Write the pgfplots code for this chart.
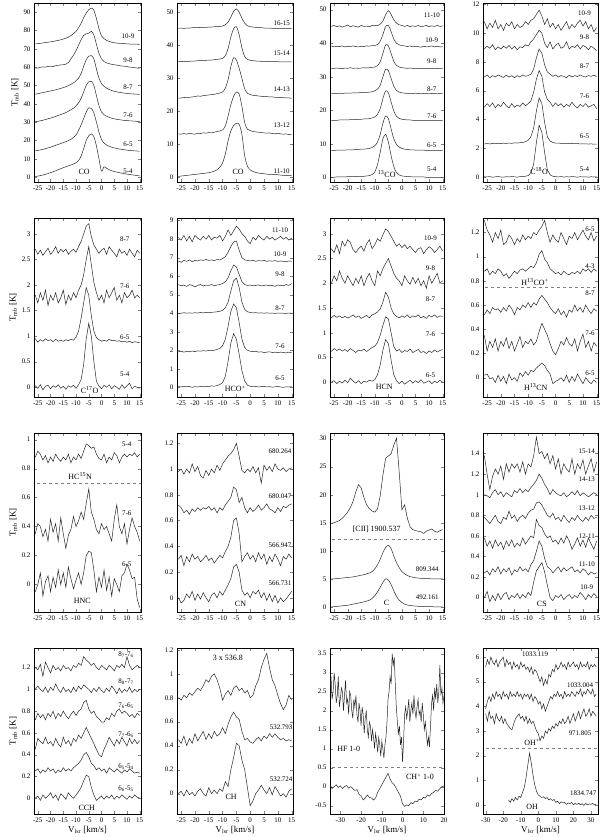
\documentclass[border=0pt]{standalone}
\usepackage{fontspec}
\setmainfont{Liberation Serif}
\usepackage{pgfplots}
\usepackage{pgfplotstable}
\pgfplotsset{compat=1.18}

\pgfplotsset{
  spec/.style={
    scale only axis, anchor=north west,
    xmin=-26.5, xmax=15.5, xtick={-25,-20,...,15},
    tick align=inside, major tick length=3bp,
    tick label style={font=\fontsize{7}{8}\selectfont},
    /pgf/number format/assume math mode=true,
    axis line style={line width=0.6pt},
    cycle list={{black!85, mark=none, line width=0.5pt}},
  },
  col1/.style={ylabel={T\textsubscript{mb} [K]}, ylabel style={font=\fontsize{9}{10}\selectfont, yshift=-2bp}},
  row4/.style={xlabel={V\textsubscript{lsr} [km/s]}, xlabel style={font=\fontsize{9}{10}\selectfont, yshift=3bp}},
}
\tikzset{
  ln/.style={black!85, mark=none, line width=0.5pt},
  lab/.style={font=\fontsize{7}{8}\selectfont, inner sep=0pt},
  sp/.style={font=\fontsize{8}{9}\selectfont, inner sep=0pt},
  sep/.style={gray, dashed, line width=0.4pt},
}

% CO 5-4 ... 10-9
\pgfplotstableread{
v a b c d e f
-26 0.3 14.3 30.2 45.2 59.6 72.6
-25 0.5 14.5 30.4 45.5 59.4 72.8
-24 0.8 14.8 30.7 45.8 59.9 73.0
-23 1.1 15.1 31.0 46.1 60.1 73.2
-22 1.5 15.5 31.4 46.4 60.0 73.4
-21 1.9 15.9 31.8 46.7 60.4 73.6
-20 2.4 16.3 32.2 47.0 60.5 73.8
-19 2.9 16.8 32.6 47.3 60.3 74.0
-18 3.4 17.3 33.1 47.6 60.8 74.3
-17 4.0 17.8 33.6 48.0 61.0 74.6
-16 4.6 18.3 34.1 48.4 61.2 74.9
-15 5.1 18.8 34.6 48.8 61.3 75.3
-14 5.6 19.3 35.2 49.3 61.6 75.8
-13 6.1 19.9 35.9 49.9 62.5 76.4
-12 6.6 20.6 36.7 50.6 64.5 77.2
-11 7.1 21.5 37.6 51.4 66.5 78.2
-10 7.8 23.0 38.8 52.5 69.0 79.5
-9 9.0 25.5 40.5 54.0 72.0 81.5
-8 11.5 28.5 43.0 56.5 75.0 84.0
-7 15.5 32.0 46.5 60.5 77.3 87.0
-6 20.0 35.5 50.0 64.0 78.2 89.5
-5 22.5 37.8 52.0 66.0 78.5 91.3
-4 23.5 37.5 52.3 66.3 79.5 92.2
-3 22.0 35.0 50.0 64.5 77.5 91.0
-2 17.0 30.0 44.5 59.0 72.5 86.5
-1 10.0 24.5 39.0 54.0 67.5 81.0
0 3.2 20.5 35.5 51.0 64.5 77.0
1 5.6 18.5 34.0 49.5 63.0 75.5
2 4.8 17.5 33.2 48.5 62.3 74.6
3 4.0 16.8 32.6 47.8 61.9 74.0
4 3.4 16.3 32.1 47.2 61.5 73.6
5 3.0 15.9 31.8 46.8 61.3 73.3
6 2.7 15.6 31.5 46.5 61.1 73.1
7 2.4 15.3 31.3 46.2 60.8 73.0
8 2.1 15.1 31.1 46.0 60.6 72.9
9 1.8 14.9 30.9 45.8 60.5 72.8
10 1.6 14.7 30.8 45.6 60.3 72.7
11 1.4 14.5 30.7 45.5 60.0 72.6
12 1.2 14.4 30.6 45.4 59.9 72.6
13 1.0 14.3 30.5 45.3 59.7 72.5
14 0.8 14.2 30.4 45.2 59.5 72.5
15 0.6 14.1 30.3 45.1 59.4 72.4
}\tCOa

% CO 11-10, 13-12, 14-13, 15-14, 16-15
\pgfplotstableread{
v a b c d e
-26 0.2 13.1 23.9 35.0 45.1
-25 0.3 13.0 24.0 35.1 45.2
-24 0.4 13.2 24.1 35.0 45.1
-23 0.5 13.0 24.2 35.1 45.2
-22 0.6 13.3 24.2 35.1 45.2
-21 0.7 13.1 24.3 35.2 45.3
-20 0.8 13.0 24.4 35.2 45.3
-19 0.9 13.3 24.6 35.3 45.3
-18 1.0 13.2 24.5 35.3 45.4
-17 1.1 13.4 24.7 35.4 45.4
-16 1.2 13.3 24.8 35.4 45.4
-15 1.3 13.5 24.9 35.5 45.5
-14 1.5 13.4 25.0 35.5 45.5
-13 1.8 13.6 25.1 35.6 45.6
-12 2.2 13.8 25.3 35.7 45.6
-11 3.0 14.0 25.5 35.8 45.7
-10 4.3 14.3 25.8 36.0 45.8
-9 7.0 15.5 27.0 36.8 46.2
-8 11.0 18.5 29.5 39.0 47.0
-7 14.0 22.0 33.5 42.5 48.5
-6 15.6 24.5 36.2 45.0 50.3
-5 16.3 25.8 35.5 45.6 51.0
-4 16.0 25.2 33.0 43.2 50.0
-3 13.0 21.5 30.0 39.2 48.2
-2 6.5 16.5 26.8 36.6 46.7
-1 3.3 14.5 25.4 35.7 45.9
0 2.2 14.1 25.0 35.4 45.6
1 1.7 13.8 24.8 35.3 45.5
2 1.4 13.7 24.7 35.2 45.4
3 1.2 13.6 24.6 35.2 45.3
4 1.1 13.5 24.5 35.1 45.3
5 1.0 13.4 24.4 35.1 45.2
6 0.9 13.3 24.4 35.1 45.2
7 0.8 13.4 24.3 35.0 45.2
8 0.8 13.2 24.3 35.0 45.1
9 0.7 13.1 24.2 35.0 45.1
10 0.7 13.3 24.2 35.0 45.1
11 0.6 13.1 24.1 34.9 45.0
12 0.5 13.0 24.1 34.9 45.0
13 0.5 13.1 24.0 34.9 45.0
14 0.4 12.9 24.0 34.9 45.0
15 0.4 13.0 23.9 34.9 45.0
}\tCOb

% 13CO 5-4 ... 11-10
\pgfplotstableread{
v a b c d e f g
-26 0.0 8.0 17.0 25.0 32.4 39.2 45.0
-25 0.0 8.0 17.0 25.0 32.5 38.9 45.3
-24 0.1 8.1 17.0 25.0 32.6 39.1 44.9
-23 0.1 8.1 17.1 25.1 32.5 39.0 45.2
-22 0.1 8.1 17.1 25.0 32.4 39.2 44.8
-21 0.1 8.1 17.1 25.1 32.6 38.9 45.1
-20 0.2 8.2 17.1 25.1 32.5 39.1 45.4
-19 0.2 8.2 17.2 25.1 32.7 39.0 44.9
-18 0.2 8.2 17.2 25.2 32.5 39.2 45.2
-17 0.2 8.3 17.2 25.2 32.6 39.0 45.0
-16 0.3 8.3 17.3 25.2 32.5 38.9 44.8
-15 0.3 8.4 17.3 25.3 32.6 39.1 45.3
-14 0.3 8.4 17.4 25.3 32.7 39.0 45.0
-13 0.4 8.5 17.4 25.3 32.6 39.2 45.1
-12 0.5 8.6 17.5 25.4 32.7 39.1 44.9
-11 0.8 8.9 17.7 25.5 32.8 39.3 45.3
-10 1.6 9.4 18.0 25.8 32.9 39.3 45.3
-9 3.8 10.5 18.8 26.3 33.3 39.6 45.2
-8 7.5 12.8 20.5 27.5 34.5 40.6 45.7
-7 11.5 16.2 23.5 30.0 37.0 42.6 46.6
-6 12.8 18.3 25.8 32.2 39.5 45.0 48.5
-5 10.5 17.5 25.2 31.8 39.2 45.3 49.7
-4 6.5 14.5 22.5 29.5 37.0 43.5 48.6
-3 3.2 11.5 19.8 27.2 34.6 41.2 47.0
-2 1.4 9.8 18.2 25.9 33.4 40.0 46.0
-1 0.7 9.0 17.6 25.4 32.9 39.5 45.5
0 0.4 8.6 17.3 25.2 32.7 39.3 45.3
1 0.3 8.4 17.2 25.1 32.6 39.2 45.0
2 0.2 8.3 17.1 25.0 32.5 39.0 45.3
3 0.2 8.2 17.1 25.0 32.6 39.2 44.9
4 0.1 8.2 17.0 25.0 32.5 38.9 45.2
5 0.1 8.1 17.0 25.1 32.4 39.1 45.0
6 0.1 8.1 17.0 25.0 32.5 39.0 45.3
7 0.1 8.1 17.0 24.9 32.5 38.8 44.9
8 0.1 8.1 17.0 25.0 32.4 39.1 45.1
9 0.0 8.0 17.0 25.0 32.5 38.9 45.3
10 0.0 8.0 17.0 24.9 32.4 39.0 44.9
11 0.0 8.0 17.0 25.0 32.5 39.2 45.2
12 0.0 8.0 17.0 25.0 32.4 38.9 45.0
13 0.0 8.0 17.0 24.9 32.5 39.1 45.3
14 0.0 8.0 17.0 25.0 32.4 38.9 45.0
15 0.0 8.0 17.0 25.0 32.4 39.0 45.2
}\tTCO

% C18O 5-4 ... 10-9
\pgfplotstableread{
v a b c d e f
-26 0.02 2.30 4.85 6.95 8.90 10.8
-25 0.00 2.32 5.10 7.10 9.10 10.3
-24 0.03 2.30 4.90 6.90 8.95 10.7
-23 -0.02 2.33 5.15 7.05 9.20 10.4
-22 0.01 2.31 4.80 6.95 8.85 10.9
-21 0.03 2.34 5.05 7.10 9.05 10.3
-20 0.00 2.32 4.90 7.00 8.90 10.6
-19 -0.02 2.35 5.20 6.92 9.10 10.2
-18 0.02 2.33 4.95 7.08 8.95 10.7
-17 0.00 2.36 4.80 6.95 9.15 10.5
-16 0.03 2.34 5.10 7.05 8.90 10.8
-15 0.01 2.37 4.85 6.90 9.10 10.3
-14 -0.01 2.36 5.00 7.05 8.85 10.6
-13 0.02 2.38 4.90 6.95 9.05 10.4
-12 0.03 2.40 5.15 7.10 9.00 10.5
-11 0.05 2.45 4.95 7.00 9.20 10.8
-10 0.10 2.55 5.10 7.05 9.10 10.6
-9 0.30 2.80 5.30 7.15 9.40 10.9
-8 0.90 3.40 5.90 7.50 9.60 11.0
-7 2.40 4.60 6.80 8.30 9.90 11.3
-6 3.60 5.50 7.40 8.90 10.20 11.6
-5 3.10 5.10 7.00 8.60 10.00 11.2
-4 1.70 3.80 5.90 7.80 9.30 10.6
-3 0.50 2.80 5.40 7.30 9.00 11.0
-2 0.15 2.50 5.20 7.15 9.40 10.4
-1 0.05 2.40 4.90 7.00 8.90 10.7
0 0.02 2.36 5.15 7.10 9.15 10.3
1 0.00 2.35 4.95 6.95 9.30 10.6
2 0.03 2.34 5.10 7.05 8.95 10.2
3 -0.01 2.33 4.85 7.00 9.05 10.5
4 0.02 2.34 5.05 6.90 9.40 10.8
5 0.00 2.32 4.90 7.08 8.90 10.3
6 0.03 2.33 5.20 6.95 9.10 10.6
7 0.01 2.31 4.95 7.05 9.00 10.4
8 -0.02 2.32 4.80 6.98 9.20 10.7
9 0.02 2.30 5.05 7.10 8.90 10.9
10 0.00 2.31 4.90 7.00 9.15 10.5
11 0.01 2.30 5.10 6.95 9.05 10.8
12 -0.02 2.29 4.85 7.05 8.85 10.3
13 0.02 2.30 4.95 7.00 9.10 10.6
14 0.00 2.28 5.05 7.08 8.95 10.1
15 0.01 2.29 4.75 6.98 8.80 10.4
}\tCEO

% C17O 5-4 ... 8-7
\pgfplotstableread{
v a b c d
-26 0.03 0.95 1.80 2.70
-25 -0.02 0.88 1.65 2.60
-24 0.05 0.93 1.85 2.68
-23 -0.05 0.90 1.70 2.58
-22 0.02 0.95 1.90 2.65
-21 0.04 0.91 1.60 2.72
-20 -0.03 0.93 1.80 2.60
-19 0.03 0.89 1.70 2.66
-18 0.00 0.94 1.85 2.75
-17 0.05 0.90 1.65 2.62
-16 -0.02 0.92 1.75 2.70
-15 0.02 0.90 1.90 2.65
-14 -0.04 0.93 1.62 2.70
-13 0.03 0.91 1.80 2.60
-12 0.00 0.94 1.70 2.66
-11 0.04 0.92 1.85 2.70
-10 -0.02 0.98 1.75 2.64
-9 0.05 1.10 1.90 2.75
-8 0.15 1.35 2.00 2.85
-7 0.45 1.65 2.20 3.00
-6 0.95 1.95 2.50 3.15
-5 1.25 1.80 2.75 3.20
-4 1.00 1.40 2.40 2.95
-3 0.50 1.10 2.05 2.78
-2 0.12 0.97 1.85 2.70
-1 0.02 0.93 1.70 2.62
0 -0.03 0.90 1.80 2.68
1 0.04 0.92 1.65 2.72
2 0.00 0.90 1.90 2.60
3 0.05 0.94 1.75 2.75
4 -0.03 0.91 1.85 2.68
5 0.03 0.92 1.95 2.62
6 0.00 0.90 1.70 2.55
7 -0.04 0.91 1.80 2.70
8 0.05 0.89 1.65 2.62
9 -0.02 0.90 1.85 2.66
10 0.03 0.88 1.75 2.58
11 0.08 0.90 1.80 2.70
12 -0.03 0.87 1.90 2.62
13 0.02 0.89 1.75 2.55
14 0.00 0.88 1.80 2.68
15 -0.02 0.87 1.75 2.62
}\tCSO

% HCO+ 6-5 ... 11-10
\pgfplotstableread{
v a b c d e f
-26 0.05 1.92 3.98 5.55 6.82 8.10
-25 0.02 1.95 4.00 5.48 6.75 7.95
-24 0.06 1.90 4.03 5.52 6.85 8.20
-23 0.03 1.94 4.00 5.45 6.80 7.90
-22 0.05 1.92 4.02 5.55 6.88 8.15
-21 0.00 1.96 4.00 5.50 6.78 7.85
-20 0.04 1.93 4.03 5.42 6.85 8.20
-19 0.02 1.97 4.01 5.50 6.82 8.05
-18 0.05 1.95 4.04 5.55 6.88 7.95
-17 0.03 1.98 4.02 5.47 6.85 8.15
-16 0.06 1.96 4.05 5.52 6.90 8.00
-15 0.04 1.99 4.03 5.50 6.85 8.20
-14 0.08 2.00 4.05 5.55 6.88 7.95
-13 0.06 2.00 4.06 5.48 6.84 8.10
-12 0.10 2.05 4.08 5.52 6.90 8.05
-11 0.15 2.10 4.10 5.55 6.88 8.20
-10 0.25 2.25 4.15 5.60 6.95 7.90
-9 0.60 2.60 4.30 5.70 7.05 8.15
-8 1.40 3.30 4.60 5.90 7.30 8.50
-7 2.40 4.10 5.20 6.30 7.60 8.20
-6 2.90 4.50 5.75 6.60 7.85 8.45
-5 2.60 4.30 5.90 6.50 7.90 8.70
-4 1.80 3.50 5.40 6.10 7.40 8.55
-3 0.90 2.60 4.60 5.70 7.00 8.30
-2 0.35 2.15 4.20 5.55 6.88 8.15
-1 0.12 2.00 4.08 5.50 6.85 7.90
0 0.06 1.95 4.04 5.52 6.82 7.75
1 0.03 1.93 4.02 5.48 6.86 8.10
2 0.05 1.95 4.03 5.50 6.80 7.95
3 0.02 1.90 4.01 5.53 6.84 8.20
4 0.04 1.92 4.02 5.47 6.82 8.05
5 0.06 1.88 4.00 5.50 6.85 7.95
6 0.02 1.90 4.02 5.52 6.80 8.15
7 0.04 1.92 4.00 5.48 6.83 8.00
8 0.01 1.88 4.01 5.50 6.81 8.10
9 0.03 1.90 3.99 5.45 6.84 7.95
10 0.05 1.87 4.01 5.52 6.80 8.05
11 0.02 1.90 4.00 5.50 6.82 8.15
12 0.00 1.88 4.00 5.48 6.80 8.00
13 0.03 1.86 3.99 5.55 6.78 8.10
14 0.02 1.90 4.01 5.50 6.82 7.95
15 0.04 1.87 4.00 5.60 6.80 8.05
}\tHCOp

% HCN 6-5 ... 10-9
\pgfplotstableread{
v a b c d e
-26 0.00 0.62 1.30 2.00 2.70
-25 0.03 0.68 1.35 2.15 2.62
-24 -0.03 0.64 1.31 2.05 2.78
-23 0.02 0.67 1.34 2.25 2.60
-22 -0.02 0.63 1.30 2.10 2.85
-21 0.04 0.66 1.33 2.00 2.75
-20 -0.01 0.62 1.30 2.15 2.88
-19 0.08 0.68 1.32 2.05 2.82
-18 0.02 0.64 1.36 1.95 2.68
-17 -0.02 0.60 1.31 2.10 2.62
-16 0.03 0.65 1.34 2.00 2.70
-15 -0.03 0.63 1.29 2.15 2.75
-14 0.02 0.67 1.32 1.95 2.65
-13 0.00 0.62 1.35 2.10 2.80
-12 0.04 0.66 1.30 2.20 2.88
-11 0.02 0.70 1.36 2.05 2.70
-10 0.05 0.73 1.38 1.95 2.78
-9 0.15 0.80 1.42 2.25 2.90
-8 0.35 0.95 1.48 2.15 2.85
-7 0.65 1.15 1.62 2.30 2.98
-6 0.86 1.32 1.82 2.40 3.10
-5 0.78 1.28 1.72 2.50 3.05
-4 0.45 1.00 1.50 2.35 2.95
-3 0.15 0.72 1.38 2.20 2.85
-2 0.03 0.63 1.33 2.10 2.75
-1 -0.03 0.66 1.30 2.05 2.80
0 0.02 0.60 1.34 1.95 2.72
1 -0.04 0.64 1.31 2.15 2.78
2 0.00 0.62 1.36 2.05 2.70
3 0.04 0.67 1.30 1.98 2.75
4 -0.02 0.60 1.34 2.12 2.68
5 0.03 0.63 1.32 2.00 2.62
6 -0.01 0.66 1.36 2.10 2.70
7 0.05 0.60 1.30 1.95 2.72
8 -0.02 0.62 1.33 2.05 2.60
9 0.00 0.58 1.29 1.90 2.68
10 0.03 0.63 1.35 2.15 2.74
11 -0.03 0.60 1.32 2.00 2.70
12 0.02 0.65 1.36 2.10 2.62
13 -0.01 0.61 1.31 2.20 2.68
14 0.04 0.64 1.34 2.00 2.75
15 0.00 0.66 1.33 2.05 2.65
}\tHCN

% H13CN 6-5, 7-6, 8-7; H13CO+ 4-3, 6-5
\pgfplotstableread{
v a b c d e
-26 0.02 0.35 0.52 0.88 1.30
-25 0.03 0.22 0.56 0.90 1.22
-24 -0.01 0.30 0.53 0.85 1.18
-23 0.00 0.25 0.58 0.88 1.12
-22 -0.04 0.32 0.56 0.86 1.20
-21 0.02 0.22 0.57 0.90 1.15
-20 -0.03 0.30 0.54 0.88 1.22
-19 0.01 0.26 0.58 0.84 1.10
-18 -0.05 0.33 0.55 0.86 1.12
-17 0.03 0.24 0.60 0.82 1.18
-16 -0.02 0.30 0.57 0.85 1.15
-15 0.00 0.22 0.52 0.88 1.10
-14 -0.03 0.28 0.58 0.86 1.15
-13 0.04 0.34 0.56 0.89 1.12
-12 0.01 0.25 0.60 0.90 1.18
-11 0.05 0.30 0.58 0.88 1.14
-10 0.02 0.28 0.62 0.90 1.17
-9 0.06 0.32 0.58 0.92 1.15
-8 0.05 0.27 0.62 0.91 1.20
-7 0.08 0.30 0.60 0.95 1.18
-6 0.10 0.38 0.65 1.02 1.22
-5 0.12 0.45 0.68 1.05 1.25
-4 0.10 0.40 0.65 0.98 1.30
-3 0.06 0.35 0.62 0.95 1.20
-2 0.03 0.28 0.58 0.90 1.12
-1 -0.05 0.22 0.55 0.88 1.18
0 -0.03 0.19 0.53 0.86 1.14
1 -0.02 0.24 0.57 0.87 1.12
2 0.00 0.30 0.52 0.85 1.20
3 -0.03 0.27 0.55 0.88 1.15
4 0.02 0.33 0.50 0.86 1.10
5 -0.04 0.28 0.56 0.85 1.17
6 0.01 0.26 0.54 0.87 1.15
7 -0.03 0.32 0.60 0.86 1.20
8 0.03 0.22 0.55 0.88 1.14
9 -0.01 0.30 0.58 0.86 1.18
10 -0.05 0.36 0.54 0.90 1.22
11 0.00 0.25 0.60 0.88 1.17
12 -0.03 0.30 0.56 0.90 1.14
13 -0.05 0.22 0.53 0.87 1.20
14 -0.02 0.29 0.57 0.90 1.13
15 -0.04 0.26 0.55 0.88 1.17
}\tHthirteen

% HNC 6-5, 7-6; HC15N 5-4
\pgfplotstableread{
v a b c
-26 -0.05 0.35 0.88
-25 0.00 0.42 0.92
-24 0.08 0.40 0.90
-23 -0.08 0.33 0.86
-22 0.02 0.38 0.89
-21 0.06 0.30 0.84
-20 -0.05 0.45 0.88
-19 0.05 0.36 0.85
-18 -0.02 0.42 0.90
-17 0.10 0.30 0.87
-16 0.00 0.46 0.85
-15 0.08 0.35 0.88
-14 -0.02 0.25 0.86
-13 0.12 0.34 0.90
-12 0.04 0.38 0.84
-11 -0.03 0.47 0.88
-10 0.03 0.40 0.86
-9 0.08 0.44 0.90
-8 0.00 0.50 0.87
-7 0.08 0.45 0.92
-6 0.20 0.56 0.97
-5 0.23 0.66 0.96
-4 0.22 0.50 0.94
-3 0.10 0.45 0.95
-2 -0.05 0.38 0.90
-1 0.05 0.35 0.87
0 -0.02 0.42 0.86
1 0.10 0.38 0.90
2 -0.04 0.40 0.84
3 0.05 0.35 0.88
4 -0.08 0.30 0.86
5 0.04 0.45 0.91
6 0.00 0.55 0.89
7 -0.05 0.40 0.84
8 0.06 0.35 0.88
9 0.08 0.42 0.90
10 0.14 0.28 0.88
11 0.10 0.38 0.90
12 0.04 0.46 0.89
13 0.05 0.40 0.91
14 -0.10 0.36 0.88
15 -0.16 0.30 0.90
}\tHNC

% CN 566.731, 566.947, 680.047, 680.264
\pgfplotstableread{
v a b c d
-26 0.00 0.30 0.72 0.98
-25 -0.04 0.33 0.70 1.00
-24 -0.02 0.25 0.66 0.96
-23 0.03 0.32 0.68 1.00
-22 0.00 0.28 0.65 0.97
-21 0.05 0.34 0.69 1.04
-20 -0.02 0.30 0.67 0.98
-19 0.03 0.32 0.70 1.02
-18 -0.01 0.28 0.68 0.95
-17 0.04 0.30 0.70 0.93
-16 0.00 0.33 0.69 0.99
-15 -0.03 0.29 0.71 0.95
-14 0.02 0.31 0.68 1.00
-13 0.04 0.27 0.70 0.97
-12 0.00 0.30 0.66 1.03
-11 0.05 0.33 0.70 0.99
-10 0.02 0.31 0.68 1.04
-9 0.06 0.36 0.72 1.07
-8 0.10 0.40 0.75 1.10
-7 0.15 0.47 0.78 1.12
-6 0.24 0.60 0.86 1.15
-5 0.26 0.62 0.84 1.20
-4 0.20 0.50 0.74 1.10
-3 0.06 0.28 0.78 0.99
-2 0.02 0.32 0.70 0.97
-1 0.04 0.35 0.66 1.00
0 0.00 0.30 0.70 0.98
1 0.05 0.33 0.67 1.02
2 0.03 0.28 0.69 0.97
3 0.06 0.35 0.72 1.01
4 0.00 0.30 0.68 0.89
5 0.04 0.34 0.70 1.03
6 -0.02 0.26 0.73 0.99
7 0.03 0.32 0.69 1.02
8 -0.03 0.28 0.68 0.98
9 0.02 0.34 0.66 1.04
10 -0.04 0.30 0.70 1.00
11 0.00 0.25 0.67 0.99
12 -0.03 0.32 0.71 1.01
13 -0.01 0.30 0.70 0.98
14 0.02 0.34 0.72 1.00
15 0.05 0.31 0.73 1.01
}\tCN

% C 492.161, C 809.344, [CII] 1900.537
\pgfplotstableread{
v a b c
-26 0.00 5.00 14.9
-25 0.05 5.00 15.0
-24 0.10 5.05 15.2
-23 0.15 5.10 15.4
-22 0.20 5.15 15.8
-21 0.25 5.20 16.3
-20 0.30 5.25 16.9
-19 0.40 5.30 17.7
-18 0.50 5.35 18.8
-17 0.60 5.45 20.5
-16 0.70 5.55 21.8
-15 0.80 5.65 21.2
-14 0.90 5.75 19.5
-13 1.05 5.90 18.2
-12 1.20 6.05 17.5
-11 1.50 6.30 17.1
-10 2.00 6.80 16.9
-9 2.70 7.50 17.5
-8 3.50 8.50 19.8
-7 4.40 9.70 23.5
-6 5.00 10.60 26.5
-5 4.80 11.00 26.9
-4 4.00 10.40 27.3
-3 2.90 9.10 28.8
-2 1.90 7.90 30.1
-1 1.20 7.00 24.0
0 0.80 6.30 17.3
1 0.50 5.90 18.2
2 0.35 5.60 15.8
3 0.25 5.40 14.3
4 0.20 5.30 13.8
5 0.15 5.20 13.6
6 0.12 5.15 13.5
7 0.10 5.10 13.4
8 0.08 5.10 13.1
9 0.06 5.05 13.5
10 0.05 5.05 13.7
11 0.04 5.00 13.9
12 0.03 5.00 13.5
13 0.02 5.00 13.3
14 0.01 5.00 13.6
15 0.00 5.00 13.8
}\tCII

% CS 10-9 ... 15-14
\pgfplotstableread{
v a b c d e f
-26 0.00 0.24 0.58 0.78 1.00 1.38
-25 0.06 0.26 0.50 0.75 0.99 1.20
-24 -0.04 0.22 0.55 0.72 0.97 1.05
-23 0.02 0.28 0.48 0.76 1.02 1.18
-22 -0.03 0.25 0.56 0.80 1.05 1.25
-21 0.04 0.30 0.50 0.74 1.00 1.20
-20 -0.02 0.23 0.54 0.72 1.03 1.28
-19 0.03 0.28 0.47 0.78 0.98 1.15
-18 0.05 0.25 0.55 0.76 1.02 1.30
-17 -0.02 0.29 0.50 0.84 1.00 1.22
-16 0.02 0.22 0.56 0.77 0.98 1.30
-15 0.00 0.27 0.49 0.80 1.04 1.26
-14 0.04 0.25 0.53 0.74 1.02 1.30
-13 -0.01 0.30 0.50 0.78 1.06 1.22
-12 0.03 0.26 0.58 0.80 1.02 1.32
-11 0.00 0.28 0.52 0.77 1.05 1.20
-10 0.05 0.25 0.56 0.82 1.03 1.30
-9 0.02 0.32 0.60 0.85 1.07 1.27
-8 0.15 0.36 0.58 0.86 1.10 1.38
-7 0.26 0.45 0.76 0.92 1.14 1.56
-6 0.30 0.55 0.70 0.93 1.20 1.40
-5 0.34 0.50 0.68 0.90 1.16 1.42
-4 0.25 0.38 0.62 0.85 1.10 1.35
-3 0.12 0.30 0.58 0.80 1.06 1.40
-2 0.00 0.28 0.60 0.78 1.00 1.30
-1 -0.03 0.24 0.54 0.82 1.05 1.38
0 0.02 0.27 0.56 0.76 1.02 1.25
1 0.00 0.30 0.52 0.78 1.00 1.35
2 0.03 0.25 0.58 0.74 0.99 1.20
3 -0.02 0.29 0.53 0.80 1.02 1.30
4 0.01 0.26 0.60 0.76 0.98 1.25
5 0.03 0.28 0.55 0.73 1.00 1.22
6 -0.01 0.30 0.47 0.78 1.03 1.35
7 0.02 0.25 0.52 0.75 1.00 1.20
8 0.00 0.27 0.58 0.80 1.04 1.30
9 0.05 0.24 0.50 0.76 0.99 1.25
10 0.02 0.28 0.56 0.74 1.02 1.34
11 -0.02 0.26 0.49 0.78 1.00 1.20
12 0.03 0.22 0.58 0.75 0.98 1.28
13 0.00 0.25 0.52 0.80 1.00 1.35
14 0.04 0.23 0.47 0.77 1.02 1.22
15 0.01 0.24 0.55 0.78 1.00 1.32
}\tCS

% CCH
\pgfplotstableread{
v a b c d e f
-26 0.00 0.25 0.45 0.72 1.00 1.20
-25 0.02 0.27 0.55 0.78 1.03 1.18
-24 -0.02 0.23 0.52 0.74 1.00 1.23
-23 0.03 0.26 0.50 0.77 0.98 1.12
-22 0.00 0.24 0.56 0.72 1.02 1.25
-21 0.02 0.28 0.50 0.78 0.97 1.20
-20 0.05 0.25 0.52 0.75 1.02 1.15
-19 0.00 0.27 0.48 0.80 0.99 1.22
-18 0.03 0.23 0.55 0.73 1.05 1.18
-17 -0.02 0.26 0.50 0.78 1.00 1.20
-16 0.04 0.24 0.47 0.75 0.97 1.17
-15 0.02 0.28 0.56 0.80 1.02 1.22
-14 -0.01 0.25 0.50 0.76 0.98 1.19
-13 0.05 0.27 0.53 0.73 1.00 1.20
-12 0.02 0.25 0.48 0.77 0.97 1.17
-11 0.00 0.28 0.55 0.80 1.02 1.22
-10 0.03 0.30 0.52 0.76 0.98 1.20
-9 0.06 0.32 0.58 0.80 1.03 1.24
-8 0.10 0.35 0.55 0.82 1.00 1.22
-7 0.16 0.40 0.60 0.88 1.04 1.30
-6 0.21 0.42 0.65 0.90 1.02 1.27
-5 0.20 0.38 0.60 0.82 1.00 1.25
-4 0.10 0.32 0.55 0.78 0.97 1.22
-3 0.03 0.30 0.50 0.80 1.01 1.24
-2 -0.02 0.26 0.45 0.75 0.98 1.20
-1 0.00 0.28 0.40 0.73 1.02 1.18
0 0.02 0.25 0.38 0.70 0.99 1.22
1 -0.01 0.27 0.45 0.70 0.97 1.20
2 0.02 0.23 0.50 0.74 1.01 1.18
3 0.00 0.28 0.56 0.72 0.98 1.22
4 0.03 0.26 0.52 0.78 1.03 1.20
5 -0.01 0.24 0.48 0.75 1.00 1.17
6 0.02 0.27 0.54 0.80 0.96 1.22
7 0.00 0.25 0.50 0.82 1.01 1.20
8 0.03 0.23 0.56 0.78 0.97 1.23
9 0.01 0.26 0.52 0.80 1.00 1.20
10 -0.01 0.24 0.48 0.78 0.98 1.30
11 0.02 0.27 0.55 0.75 1.02 1.22
12 0.00 0.25 0.50 0.77 0.97 1.18
13 0.03 0.23 0.54 0.74 1.00 1.20
14 0.01 0.24 0.50 0.78 0.98 1.22
15 0.00 0.23 0.53 0.76 1.00 1.20
}\tCCH

% CH 532.724, 532.793, 3 x 536.8
\pgfplotstableread{
v a b c
-26 0.00 0.45 0.80
-25 0.02 0.42 0.78
-24 -0.02 0.48 0.82
-23 0.03 0.40 0.80
-22 -0.01 0.46 0.84
-21 0.01 0.42 0.82
-20 -0.02 0.50 0.85
-19 0.02 0.44 0.88
-18 0.04 0.48 0.86
-17 0.00 0.52 0.90
-16 -0.02 0.45 0.95
-15 0.05 0.50 0.93
-14 0.00 0.46 0.98
-13 0.03 0.52 1.00
-12 0.00 0.48 0.95
-11 0.04 0.50 0.88
-10 0.02 0.55 0.78
-9 0.10 0.50 0.83
-8 0.06 0.58 0.86
-7 0.20 0.64 0.82
-6 0.30 0.68 0.88
-5 0.42 0.64 0.90
-4 0.40 0.62 0.86
-3 0.28 0.52 0.88
-2 0.20 0.45 0.84
-1 0.05 0.46 0.86
0 -0.10 0.43 0.80
1 -0.06 0.42 0.82
2 0.00 0.45 0.90
3 0.03 0.47 0.95
4 0.07 0.44 1.05
5 0.03 0.48 1.12
6 0.00 0.46 1.17
7 0.05 0.50 1.05
8 -0.01 0.47 0.95
9 0.06 0.50 0.90
10 0.02 0.47 0.82
11 -0.02 0.45 0.75
12 0.00 0.46 0.70
13 -0.03 0.44 0.74
14 0.02 0.45 0.82
15 0.04 0.44 0.78
}\tCH

% OH+ 1033.119, 1033.004, 971.805
\pgfplotstableread{
v a b c
-30 5.6 3.9 3.7
-29 5.9 4.2 3.4
-28 5.7 4.4 3.8
-27 6.0 4.2 3.5
-26 5.8 4.5 3.6
-25 5.7 4.3 3.3
-24 5.9 4.6 3.7
-23 5.6 4.4 3.5
-22 5.8 4.5 3.4
-21 5.9 4.3 3.6
-20 6.0 4.6 3.3
-19 5.6 4.4 3.5
-18 5.9 4.5 3.3
-17 5.7 4.3 3.2
-16 5.8 4.6 3.1
-15 5.5 4.4 3.05
-14 5.8 4.5 3.3
-13 5.6 4.4 3.5
-12 5.7 4.6 3.6
-11 5.5 4.4 3.7
-10 5.8 4.5 3.5
-9 5.6 4.3 3.6
-8 5.7 4.5 3.4
-7 5.5 4.4 3.6
-6 5.6 4.5 3.3
-5 5.4 4.3 3.5
-4 5.6 4.5 3.3
-3 5.3 4.2 3.4
-2 5.5 4.4 3.2
-1 5.4 4.3 3.0
0 5.2 4.1 2.9
1 5.0 4.2 2.6
2 5.2 3.9 2.8
3 4.85 4.1 2.7
4 5.1 3.8 3.0
5 4.9 4.0 2.9
6 5.3 4.2 3.1
7 5.2 4.4 3.0
8 5.5 4.3 3.2
9 5.4 4.5 3.1
10 5.7 4.4 3.3
11 5.5 4.6 3.2
12 5.6 4.4 3.4
13 5.8 4.5 3.3
14 5.6 4.3 3.5
15 5.7 4.6 3.3
16 5.5 4.4 3.4
17 5.8 4.5 3.6
18 5.6 4.4 3.3
19 5.7 4.6 3.5
20 5.8 4.5 3.7
21 5.6 4.4 3.4
22 5.7 4.6 3.6
23 5.5 4.5 3.8
24 5.8 4.7 3.5
25 5.6 4.4 3.7
26 5.7 4.6 3.9
27 5.6 4.5 3.6
28 5.8 4.7 3.7
29 5.5 4.6 3.9
30 5.7 4.5 3.6
31 5.6 4.7 3.8
32 5.7 4.4 3.7
33 5.6 4.5 3.6
}\tOHp

\begin{document}
\begin{tikzpicture}
\useasboundingbox (0,0) rectangle (600bp,837bp);

% ---------------- row 1 ----------------
\begin{axis}[spec, col1, at={(34bp,834bp)}, width=107bp, height=179bp,
  ymin=-2.7, ymax=95, ytick={0,10,...,90}]
\foreach \s in {a,b,c,d,e,f} {\addplot[ln, smooth] table[x=v,y=\s] {\tCOa};}
\node[lab] at (axis cs:10.4,77) {10-9};
\node[lab] at (axis cs:10.4,63.6) {9-8};
\node[lab] at (axis cs:10.4,49) {8-7};
\node[lab] at (axis cs:10.4,33.5) {7-6};
\node[lab] at (axis cs:10.4,18) {6-5};
\node[lab] at (axis cs:10.4,3) {5-4};
\node[sp] at (axis cs:-6.8,2.8) {CO};
\end{axis}

\begin{axis}[spec, at={(177bp,834bp)}, width=116bp, height=179bp,
  ymin=-1.5, ymax=52.8, ytick={0,10,...,50}]
\foreach \s in {a,b,c,d,e} {\addplot[ln, smooth] table[x=v,y=\s] {\tCOb};}
\node[lab] at (axis cs:11.4,46.8) {16-15};
\node[lab] at (axis cs:11.4,37.6) {15-14};
\node[lab] at (axis cs:11.4,26.5) {14-13};
\node[lab] at (axis cs:11.4,15.7) {13-12};
\node[lab] at (axis cs:11.4,1.7) {11-10};
\node[sp] at (axis cs:-4.4,1.5) {CO};
\end{axis}

\begin{axis}[spec, at={(330bp,834bp)}, width=114bp, height=179bp,
  ymin=-1.4, ymax=52, ytick={0,10,...,50}]
\foreach \s in {a,b,c,d,e,f,g} {\addplot[ln, smooth] table[x=v,y=\s] {\tTCO};}
\node[lab] at (axis cs:11,48.5) {11-10};
\node[lab] at (axis cs:11,41) {10-9};
\node[lab] at (axis cs:11,34.6) {9-8};
\node[lab] at (axis cs:11,26.3) {8-7};
\node[lab] at (axis cs:11,18.2) {7-6};
\node[lab] at (axis cs:11,9.7) {6-5};
\node[lab] at (axis cs:11,2.3) {5-4};
\node[sp] at (axis cs:-5.6,0.9) {\textsuperscript{13}CO};
\end{axis}

\begin{axis}[spec, at={(483bp,834bp)}, width=115bp, height=179bp,
  ymin=-0.35, ymax=12.1, ytick={0,2,...,12}]
\foreach \s in {a,b,c,d,e,f} {\addplot[ln] table[x=v,y=\s] {\tCEO};}
\node[lab] at (axis cs:10.6,11.4) {10-9};
\node[lab] at (axis cs:10.6,9.7) {9-8};
\node[lab] at (axis cs:10.6,7.7) {8-7};
\node[lab] at (axis cs:10.6,5.6) {7-6};
\node[lab] at (axis cs:10.6,2.8) {6-5};
\node[lab] at (axis cs:10.6,0.55) {5-4};
\node[sp] at (axis cs:-6,0.4) {C\textsuperscript{18}O};
\end{axis}

% ---------------- row 2 ----------------
\begin{axis}[spec, col1, at={(34bp,619bp)}, width=107bp, height=179bp,
  ymin=-0.19, ymax=3.31, ytick={0,0.5,1,1.5,2,2.5,3}]
\foreach \s in {a,b,c,d} {\addplot[ln] table[x=v,y=\s] {\tCSO};}
\node[lab] at (axis cs:9.1,2.89) {8-7};
\node[lab] at (axis cs:9.1,1.98) {7-6};
\node[lab] at (axis cs:9.1,0.98) {6-5};
\node[lab] at (axis cs:9.1,0.25) {5-4};
\node[sp] at (axis cs:-4.7,-0.06) {C\textsuperscript{17}O};
\end{axis}

\begin{axis}[spec, at={(177bp,619bp)}, width=116bp, height=179bp,
  ymin=-0.52, ymax=9.14, ytick={0,1,...,9}]
\foreach \s in {a,b,c,d,e,f} {\addplot[ln] table[x=v,y=\s] {\tHCOp};}
\node[lab] at (axis cs:10.8,8.5) {11-10};
\node[lab] at (axis cs:10.8,7.16) {10-9};
\node[lab] at (axis cs:10.8,6.08) {9-8};
\node[lab] at (axis cs:10.8,4.28) {8-7};
\node[lab] at (axis cs:10.8,2.2) {7-6};
\node[lab] at (axis cs:10.8,0.5) {6-5};
\node[sp] at (axis cs:-5.4,-0.08) {HCO\textsuperscript{+}};
\end{axis}

\begin{axis}[spec, at={(330bp,619bp)}, width=114bp, height=179bp,
  ymin=-0.3, ymax=3.32, ytick={0,0.5,1,1.5,2,2.5,3}]
\foreach \s in {a,b,c,d,e} {\addplot[ln] table[x=v,y=\s] {\tHCN};}
\node[lab] at (axis cs:10.5,2.91) {10-9};
\node[lab] at (axis cs:10.5,2.31) {9-8};
\node[lab] at (axis cs:10.5,1.67) {8-7};
\node[lab] at (axis cs:10.5,0.96) {7-6};
\node[lab] at (axis cs:10.5,0.15) {6-5};
\node[sp] at (axis cs:-6.5,-0.1) {HCN};
\end{axis}

\begin{axis}[spec, at={(483bp,619bp)}, width=115bp, height=179bp,
  ymin=-0.16, ymax=1.32, ytick={0,0.2,0.4,0.6,0.8,1,1.2}]
\foreach \s in {a,b,c,d,e} {\addplot[ln] table[x=v,y=\s] {\tHthirteen};}
\addplot[sep] coordinates {(-30,0.745) (20,0.745)};
\node[lab] at (axis cs:12.6,1.23) {6-5};
\node[lab] at (axis cs:12.6,0.92) {4-3};
\node[sp] at (axis cs:-7.5,0.79) {H\textsuperscript{13}CO\textsuperscript{+}};
\node[lab] at (axis cs:12.6,0.7) {8-7};
\node[lab] at (axis cs:12.6,0.37) {7-6};
\node[lab] at (axis cs:12.6,0.04) {6-5};
\node[sp] at (axis cs:-7.2,-0.08) {H\textsuperscript{13}CN};
\end{axis}

% ---------------- row 3 ----------------
\begin{axis}[spec, col1, at={(34bp,404bp)}, width=107bp, height=179bp,
  ymin=-0.19, ymax=1.046, ytick={0,0.2,0.4,0.6,0.8,1}]
\foreach \s in {a,b,c} {\addplot[ln] table[x=v,y=\s] {\tHNC};}
\addplot[sep] coordinates {(-30,0.7) (20,0.7)};
\node[lab] at (axis cs:9.9,0.97) {5-4};
\node[sp] at (axis cs:-8.4,0.75) {HC\textsuperscript{15}N};
\node[lab] at (axis cs:9.9,0.49) {7-6};
\node[lab] at (axis cs:9.9,0.14) {6-5};
\node[sp] at (axis cs:-7.5,-0.11) {HNC};
\end{axis}

\begin{axis}[spec, at={(177bp,404bp)}, width=116bp, height=179bp,
  ymin=-0.11, ymax=1.28, ytick={0,0.2,0.4,0.6,0.8,1,1.2}]
\foreach \s in {a,b,c,d} {\addplot[ln] table[x=v,y=\s] {\tCN};}
\node[lab] at (axis cs:10.8,1.14) {680.264};
\node[lab] at (axis cs:10.8,0.79) {680.047};
\node[lab] at (axis cs:10.8,0.41) {566.947};
\node[lab] at (axis cs:10.8,0.11) {566.731};
\node[sp] at (axis cs:-3.5,-0.05) {CN};
\end{axis}

\begin{axis}[spec, at={(330bp,404bp)}, width=114bp, height=179bp,
  ymin=-0.9, ymax=31, ytick={0,5,...,30}]
\addplot[ln, smooth] table[x=v,y=a] {\tCII};
\addplot[ln, smooth] table[x=v,y=b] {\tCII};
\addplot[ln] table[x=v,y=c] {\tCII};
\addplot[sep] coordinates {(-30,12) (20,12)};
\node[sp] at (axis cs:-9.3,13.8) {[CII] 1900.537};
\node[lab] at (axis cs:9.3,6.8) {809.344};
\node[lab] at (axis cs:9.3,1.7) {492.161};
\node[sp] at (axis cs:-5.7,0.8) {C};
\end{axis}

\begin{axis}[spec, at={(483bp,404bp)}, width=115bp, height=179bp,
  ymin=-0.14, ymax=1.6, ytick={0,0.2,0.4,0.6,0.8,1,1.2,1.4}]
\foreach \s in {a,b,c,d,e,f} {\addplot[ln] table[x=v,y=\s] {\tCS};}
\node[lab] at (axis cs:11.4,1.42) {15-14};
\node[lab] at (axis cs:11.4,1.15) {14-13};
\node[lab] at (axis cs:11.4,0.87) {13-12};
\node[lab] at (axis cs:11.4,0.6) {12-11};
\node[lab] at (axis cs:11.4,0.32) {11-10};
\node[lab] at (axis cs:11.4,0.1) {10-9};
\node[sp] at (axis cs:-5,-0.06) {CS};
\end{axis}

% ---------------- row 4 ----------------
\begin{axis}[spec, col1, row4, at={(34bp,189bp)}, width=107bp, height=166bp,
  ymin=-0.145, ymax=1.38, ytick={0,0.2,0.4,0.6,0.8,1,1.2}]
\foreach \s in {a,b,c,d,e,f} {\addplot[ln] table[x=v,y=\s] {\tCCH};}
\node[lab] at (axis cs:9.6,1.32) {8\textsubscript{7}-7\textsubscript{6}};
\node[lab] at (axis cs:9.6,1.07) {8\textsubscript{8}-7\textsubscript{7}};
\node[lab] at (axis cs:9.6,0.85) {7\textsubscript{6}-6\textsubscript{5}};
\node[lab] at (axis cs:9.6,0.58) {7\textsubscript{7}-6\textsubscript{6}};
\node[lab] at (axis cs:9.6,0.29) {6\textsubscript{5}-5\textsubscript{4}};
\node[lab] at (axis cs:9.6,0.09) {6\textsubscript{6}-5\textsubscript{5}};
\node[sp] at (axis cs:-5.8,-0.09) {CCH};
\end{axis}

\begin{axis}[spec, row4, at={(177bp,189bp)}, width=116bp, height=166bp,
  ymin=-0.17, ymax=1.215, ytick={0,0.2,0.4,0.6,0.8,1,1.2}]
\foreach \s in {a,b,c} {\addplot[ln] table[x=v,y=\s] {\tCH};}
\node[sp] at (axis cs:-8.1,1.13) {3 x 536.8};
\node[lab] at (axis cs:11.2,0.55) {532.793};
\node[lab] at (axis cs:11.2,0.12) {532.724};
\node[sp] at (axis cs:-6.9,-0.03) {CH};
\end{axis}

\begin{axis}[spec, row4, at={(330bp,189bp)}, width=114bp, height=166bp,
  xmin=-35, xmax=20, xtick={-30,-20,...,20},
  ymin=-0.72, ymax=3.65, ytick={-0.5,0,0.5,1,1.5,2,2.5,3,3.5}]
\addplot[ln] coordinates {
(-35,2.6) (-34.5,2.9) (-34,2.3) (-33.5,2.5) (-33,3.0) (-32.5,2.7) (-32,2.2) (-31.5,2.4)
(-31,2.9) (-30.5,2.1) (-30,2.3) (-29.5,2.6) (-29,2.5) (-28.5,2.0) (-28,2.4) (-27.5,2.8)
(-27,2.2) (-26.5,2.3) (-26,1.9) (-25.5,2.5) (-25,2.4) (-24.5,2.0) (-24,1.8) (-23.5,2.3)
(-23,2.1) (-22.5,2.4) (-22,1.9) (-21.5,1.7) (-21,2.2) (-20.5,2.0) (-20,1.6) (-19.5,2.1)
(-19,1.9) (-18.5,1.4) (-18,1.8) (-17.5,2.0) (-17,1.5) (-16.5,1.3) (-16,1.7) (-15.5,1.6)
(-15,1.2) (-14.5,1.5) (-14,1.3) (-13.5,1.0) (-13,1.4) (-12.5,1.2) (-12,0.9) (-11.5,1.3)
(-11,1.1) (-10.5,0.8) (-10,1.2) (-9.5,1.0) (-9,0.75) (-8.5,1.1) (-8,1.3) (-7.5,1.7)
(-7,2.3) (-6.5,2.5) (-6,2.9) (-5.5,2.7) (-5,3.5) (-4.5,3.2) (-4,3.4) (-3.5,2.7)
(-3,2.1) (-2.5,1.7) (-2,1.4) (-1.5,1.6) (-1,1.1) (-0.5,1.3) (0,0.65) (0.5,1.2)
(1,1.9) (1.5,2.1) (2,1.8) (2.5,2.0) (3,2.3) (3.5,1.7) (4,2.0) (4.5,2.2)
(5,1.9) (5.5,2.4) (6,2.0) (6.5,1.8) (7,2.1) (7.5,2.3) (8,1.9) (8.5,2.0)
(9,1.7) (9.5,2.2) (10,1.9) (10.5,1.5) (11,1.7) (11.5,1.4) (12,1.1) (12.5,1.3)
(13,1.05) (13.5,1.6) (14,2.2) (14.5,2.4) (15,2.0) (15.5,2.6) (16,2.3) (16.5,2.7)
(17,2.2) (17.5,2.5) (18,3.2) (18.5,2.4) (19,2.6) (19.5,2.2) (20,2.4)};
\addplot[ln] coordinates {
(-35,0.05) (-34,-0.05) (-33,0.0) (-32,0.05) (-31,-0.02) (-30,0.02) (-29,-0.05) (-28,0.0)
(-27,0.03) (-26,-0.04) (-25,0.0) (-24,-0.05) (-23,-0.1) (-22,-0.08) (-21,-0.2) (-20,-0.25)
(-19,-0.35) (-18,-0.3) (-17,-0.22) (-16,-0.28) (-15,-0.3) (-14,-0.35) (-13,-0.3) (-12,-0.15)
(-11,-0.05) (-10,0.05) (-9,0.15) (-8,0.25) (-7,0.35) (-6,0.2) (-5,0.1) (-4,0.05)
(-3,-0.05) (-2,-0.15) (-1,-0.25) (0,-0.45) (1,-0.52) (2,-0.48) (3,-0.5) (4,-0.42)
(5,-0.45) (6,-0.38) (7,-0.4) (8,-0.33) (9,-0.35) (10,-0.28) (11,-0.3) (12,-0.22)
(13,-0.25) (14,-0.18) (15,-0.15) (16,-0.1) (17,-0.12) (18,-0.05) (19,0.0) (20,0.02)};
\addplot[sep] coordinates {(-40,0.5) (25,0.5)};
\node[sp] at (axis cs:-26,1.0) {HF 1-0};
\node[sp] at (axis cs:8.4,0.26) {CH\textsuperscript{+} 1-0};
\end{axis}

\begin{axis}[spec, row4, at={(483bp,189bp)}, width=115bp, height=166bp,
  xmin=-31.5, xmax=34, xtick={-30,-20,...,30},
  ymin=-0.37, ymax=6.37, ytick={0,1,...,6}]
\foreach \s in {a,b,c} {\addplot[ln] table[x=v,y=\s] {\tOHp};}
\addplot[ln] coordinates {
(-17,0.2) (-16,0.1) (-15,0.25) (-14,0.15) (-13,0.3) (-12,0.2) (-11,0.35) (-10,0.3)
(-9,0.5) (-8,0.7) (-7,1.1) (-6,1.6) (-5,2.1) (-4,1.7) (-3,1.2) (-2,0.8)
(-1,0.55) (0,0.4) (1,0.35) (2,0.3) (3,0.33) (4,0.25) (5,0.3) (6,0.2)
(7,0.25) (8,0.18) (9,0.22) (10,0.1) (11,0.15) (12,0.05) (13,0.12) (14,0.08)
(15,0.1) (16,0.02) (17,0.08) (18,0.05) (19,0.1) (20,0.0) (21,0.06) (22,0.02)
(23,0.07) (24,0.0) (25,0.05) (26,-0.02) (27,0.06) (28,0.0) (29,0.04) (30,0.02)
(31,0.06) (32,0.0) (33,0.03)};
\addplot[sep] coordinates {(-40,2.3) (40,2.3)};
\node[lab] at (axis cs:-1.8,6.1) {1033.119};
\node[lab] at (axis cs:23.8,4.85) {1033.004};
\node[lab] at (axis cs:23.8,2.9) {971.805};
\node[sp] at (axis cs:-3.5,2.55) {OH\textsuperscript{+}};
\node[lab] at (axis cs:25.6,0.47) {1834.747};
\node[sp] at (axis cs:-3.5,-0.07) {OH};
\end{axis}

\end{tikzpicture}
\end{document}
